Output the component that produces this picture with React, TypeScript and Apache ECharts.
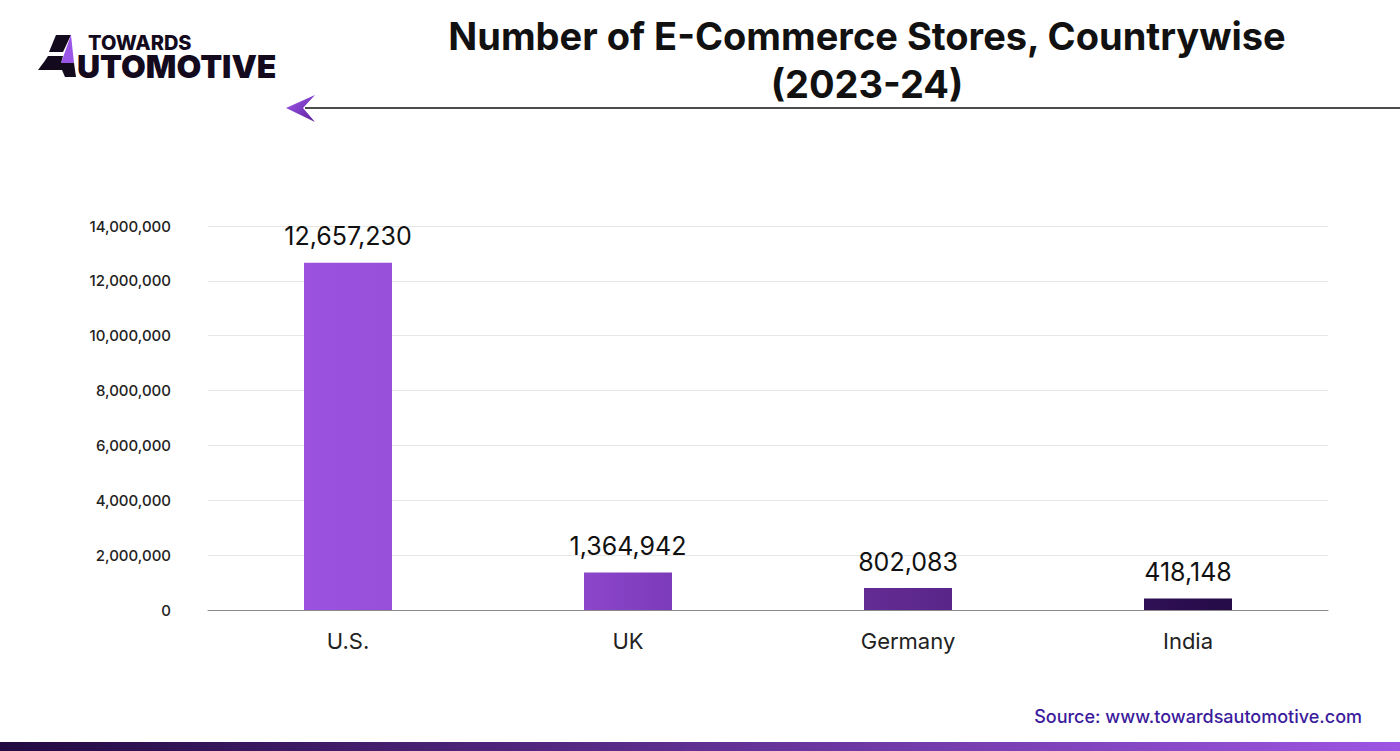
import React, { useEffect, useRef } from "react";
import * as echarts from "echarts";

const categories = ["U.S.", "UK", "Germany", "India"];
const storeCounts = [12657230, 1364942, 802083, 418148];
const barColors: [string, string][] = [
  ["#9C52DE", "#974FDA"],
  ["#8C46CB", "#7C3BB9"],
  ["#632C95", "#5A2589"],
  ["#2F1056", "#250B47"],
];
const yTicks = [0, 2000000, 4000000, 6000000, 8000000, 10000000, 12000000, 14000000];

const fmt = (v: number) => v.toLocaleString("en-US");

export default function App() {
  const ref = useRef<HTMLDivElement>(null);
  useEffect(() => {
    if (!ref.current) return;
    const chart = echarts.init(ref.current, null, { renderer: "svg" });
    const font = "Inter, 'Liberation Sans', Arial, sans-serif";
    chart.setOption({
      animation: false,
      backgroundColor: "#ffffff",
      grid: { left: 208, right: 72, top: 226, bottom: 141 },
      xAxis: {
        type: "category",
        data: categories,
        axisLine: { lineStyle: { color: "#8a8a8a", width: 1 } },
        axisTick: { show: false },
        axisLabel: { color: "#222", fontSize: 22, fontFamily: font, margin: 20 },
      },
      yAxis: {
        type: "value",
        min: yTicks[0],
        max: yTicks[yTicks.length - 1],
        interval: 2000000,
        axisLine: { show: false },
        axisTick: { show: false },
        splitLine: { lineStyle: { color: "#e6e6e6", width: 1 } },
        axisLabel: {
          color: "#222",
          fontSize: 15,
          fontWeight: 500,
          fontFamily: font,
          margin: 37,
          formatter: (v: number) => fmt(v),
        },
      },
      series: [
        {
          type: "bar",
          barWidth: 88,
          data: storeCounts.map((v, i) => ({
            value: v,
            itemStyle: {
              color: new echarts.graphic.LinearGradient(0, 0, 1, 0, [
                { offset: 0, color: barColors[i][0] },
                { offset: 1, color: barColors[i][1] },
              ]),
            },
          })),
          label: {
            show: true,
            position: "top",
            distance: 14,
            color: "#111",
            fontSize: 25,
            fontFamily: font,
            formatter: (p: any) => fmt(p.value),
          },
        },
      ],
      graphic: [
        // logo icon
        {
          type: "polygon",
          shape: { points: [[56, 35], [71, 35], [63, 52], [49, 52]] },
          style: { fill: "#140a1e" },
        },
        {
          type: "polygon",
          shape: { points: [[71, 35], [74, 63], [61, 63]] },
          style: { fill: "#9a55e8" },
        },
        {
          type: "polygon",
          shape: {
            points: [[48, 56], [63, 56], [61, 63], [74, 63], [76, 77], [65, 77], [62, 70], [38, 70], [44, 62]],
          },
          style: { fill: "#140a1e" },
        },
        {
          type: "text",
          x: 88,
          y: 35,
          style: { text: "TOWARDS", fill: "#140a1e", font: `800 20px ${font}`, lineHeight: 16 },
        },
        {
          type: "text",
          x: 77,
          y: 53,
          style: { text: "UTOMOTIVE", fill: "#140a1e", font: `900 32px ${font}`, lineHeight: 26 },
        },
        // title
        {
          type: "text",
          x: 867,
          y: 12,
          style: {
            text: "Number of E-Commerce Stores, Countrywise\n(2023-24)",
            fill: "#111",
            font: `700 38px ${font}`,
            align: "center",
            lineHeight: 48,
          },
        },
        // arrow line
        {
          type: "line",
          shape: { x1: 305, y1: 108, x2: 1400, y2: 108 },
          style: { stroke: "#111", lineWidth: 1.5 },
        },
        {
          type: "polygon",
          shape: { points: [[286, 108], [315, 95], [303, 108], [315, 122]] },
          style: {
            fill: new echarts.graphic.LinearGradient(0, 0, 1, 1, [
              { offset: 0, color: "#a25cf0" },
              { offset: 1, color: "#5b1f99" },
            ]),
          },
        },
        // source
        {
          type: "text",
          right: 38,
          top: 707,
          style: {
            text: "Source: www.towardsautomotive.com",
            fill: "#3b1b9c",
            font: `500 18px ${font}`,
          },
        },
        // bottom bar
        {
          type: "rect",
          shape: { x: 0, y: 742, width: 1400, height: 9 },
          style: {
            fill: new echarts.graphic.LinearGradient(0, 0, 1, 0, [
              { offset: 0, color: "#230a42" },
              { offset: 1, color: "#9d55e2" },
            ]),
          },
        },
      ],
    });
    return () => chart.dispose();
  }, []);
  return (
    <div
      ref={ref}
      style={{ position: "fixed", left: 0, top: 0, width: 1400, height: 751 }}
    />
  );
}
